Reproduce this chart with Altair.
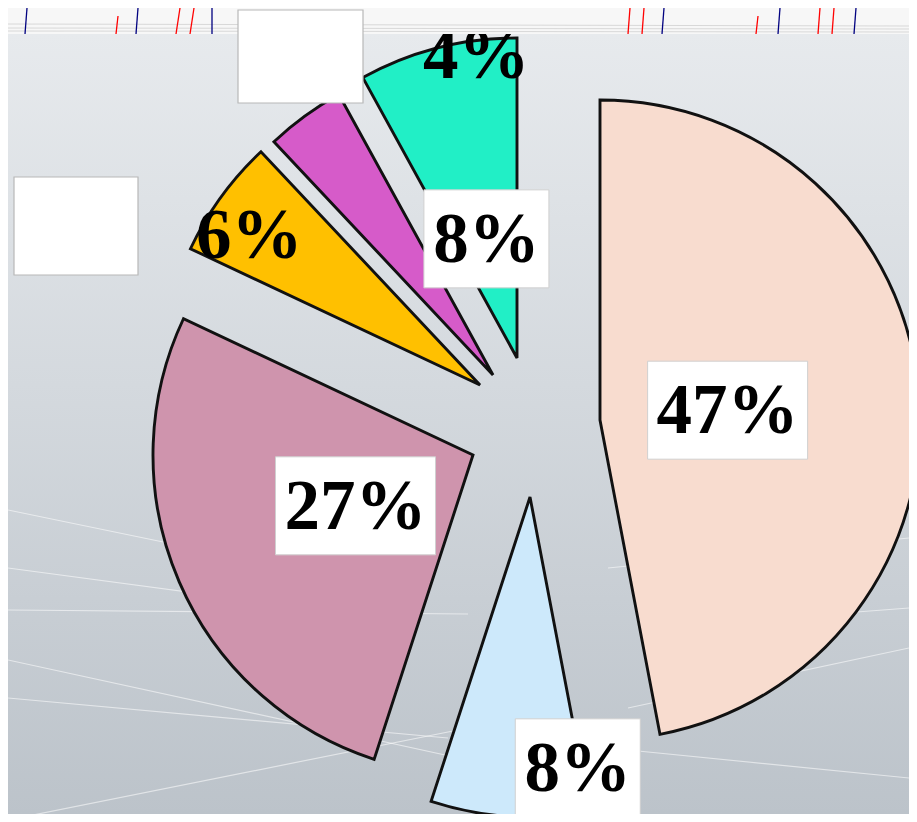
import altair as alt
import pandas as pd

# ---- data ----
slice_ids = ["s1", "s2", "s3", "s4", "s5", "s6"]
values = [47, 8, 27, 6, 4, 8]
labels = ["47%", "8%", "27%", "6%", "4%", "8%"]

# ---- style ----
colors = ["#f8dccf", "#cde9fb", "#cf94ad", "#ffc000", "#d65bc9", "#21efc6"]
center_x, center_y = 505, 412
explode_dx = [87, 17, -40, -33, -20, 4]
explode_dy = [0, 77, 35, -35, -45, -62]
label_r = [128, 275, 128, 275, 320, 123]
label_shift = [1, -13.6, 0, -3, 33, 0]
boxed = [True, True, True, False, False, True]
W, H = 901, 806
R = 320
FS = 71

df = pd.DataFrame({
    "slice": slice_ids, "value": values, "label": labels,
    "order": list(range(len(values))),
    "dx": explode_dx, "dy": explode_dy,
    "lr": label_r, "shift": label_shift, "boxed": boxed,
})

base = alt.Chart(df).transform_joinaggregate(
    total="sum(value)"
).transform_window(
    cum="sum(value)", sort=[alt.SortField("order")], frame=[None, 0]
).transform_calculate(
    a0="2*PI*(datum.cum - datum.value)/datum.total",
    a1="2*PI*datum.cum/datum.total",
    cx=f"{center_x} + datum.dx",
    cy=f"{center_y} + datum.dy",
).transform_calculate(
    mid="(datum.a0 + datum.a1)/2 + datum.shift*PI/180"
).transform_calculate(
    lx="datum.cx + datum.lr*sin(datum.mid)",
    ly="datum.cy - datum.lr*cos(datum.mid)",
).transform_calculate(
    bw="(length(datum.label)-1)*35 + 90",
).transform_calculate(
    bx0="datum.lx - datum.bw/2", bx1="datum.lx + datum.bw/2",
    by0="datum.ly - 49", by1="datum.ly + 49",
)

arcs = base.mark_arc(stroke="#111111", strokeWidth=2.9).encode(
    theta=alt.Theta("a0:Q", scale=None),
    theta2="a1:Q",
    x=alt.X("cx:Q", scale=None),
    y=alt.Y("cy:Q", scale=None),
    radius=alt.value(R),
    color=alt.Color("slice:N", scale=alt.Scale(domain=slice_ids, range=colors), legend=None),
)

boxes = base.transform_filter("datum.boxed").mark_rect(
    fill="white", stroke="#d0d0d0", strokeWidth=1
).encode(
    x=alt.X("bx0:Q", scale=None), x2="bx1:Q",
    y=alt.Y("by0:Q", scale=None), y2="by1:Q",
)

texts = base.mark_text(
    font="Liberation Serif", fontWeight="bold", fontSize=FS,
    color="black", baseline="middle", align="center", dy=2
).encode(
    x=alt.X("lx:Q", scale=None), y=alt.Y("ly:Q", scale=None), text="label:N"
)

# ---- background decoration ----
one = pd.DataFrame({"a": [0]})
bg = alt.Chart(one).mark_rect(
    color=alt.Gradient(
        gradient="linear", x1=0, x2=0, y1=0, y2=1,
        stops=[alt.GradientStop(color="#e7eaed", offset=0),
               alt.GradientStop(color="#d4d9de", offset=0.45),
               alt.GradientStop(color="#bcc3ca", offset=1)],
    )
).encode(x=alt.value(0), x2=alt.value(W), y=alt.value(26), y2=alt.value(H))

sw_x0 = [0, 0, 0, 0, 0, 0, 600, 620, 640, 600]
sw_y0 = [502, 602, 652, 690, 812, 560, 560, 700, 620, 740]
sw_x1 = [160, 460, 460, 440, 460, 300, 901, 901, 901, 901]
sw_y1 = [535, 606, 752, 730, 720, 600, 530, 640, 600, 770]
swoosh = alt.Chart(pd.DataFrame({"x0": sw_x0, "y0": sw_y0, "x1": sw_x1, "y1": sw_y1})).mark_rule(
    color="white", strokeWidth=1.2, opacity=0.55
).encode(x=alt.X("x0:Q", scale=None), y=alt.Y("y0:Q", scale=None), x2="x1:Q", y2="y1:Q")

strip = alt.Chart(one).mark_rect(color="#f7f7f7").encode(
    x=alt.value(0), x2=alt.value(W), y=alt.value(0), y2=alt.value(26)
)
strip_lines = alt.Chart(pd.DataFrame({"y0": [16, 20, 23], "y1": [18, 21, 24]})).mark_rule(
    color="#d8d8d8", strokeWidth=1
).encode(x=alt.value(0), x2=alt.value(W), y=alt.Y("y0:Q", scale=None), y2="y1:Q")

spike_xt = [-1, 19, 110, 130, 172, 186, 204, 622, 636, 656, 750, 772, 812, 826, 848]
spike_xb = [-3, 17, 108, 128, 168, 182, 204, 620, 634, 654, 748, 770, 810, 824, 846]
spike_yt = [0, 0, 8, 0, 0, 0, 0, 0, 0, 0, 8, 0, 0, 0, 0]
spike_c = ["red", "navy", "red", "navy", "red", "red", "navy", "red", "red", "navy",
           "red", "navy", "red", "red", "navy"]
spikes = alt.Chart(pd.DataFrame({"xt": spike_xt, "xb": spike_xb, "yt": spike_yt, "c": spike_c})).mark_rule(
    strokeWidth=1.3
).encode(
    x=alt.X("xt:Q", scale=None), x2="xb:Q",
    y=alt.Y("yt:Q", scale=None), y2=alt.value(26),
    color=alt.Color("c:N", scale=None),
)

eb_x0 = [6, 230]
eb_x1 = [130, 355]
eb_y0 = [169, 2]
eb_y1 = [267, 95]
empty_boxes = alt.Chart(pd.DataFrame({"x0": eb_x0, "x1": eb_x1, "y0": eb_y0, "y1": eb_y1})).mark_rect(
    fill="white", stroke="#b8b8b8", strokeWidth=1.2
).encode(x=alt.X("x0:Q", scale=None), x2="x1:Q", y=alt.Y("y0:Q", scale=None), y2="y1:Q")

chart = alt.layer(
    bg, swoosh, arcs, boxes, texts, strip, strip_lines, spikes, empty_boxes
).properties(
    width=W, height=H,
    autosize=alt.AutoSizeParams(type="none"),
    padding=0,
).configure_view(stroke=None)

chart.save("out.html", embed_options={"renderer": "svg", "actions": False})
